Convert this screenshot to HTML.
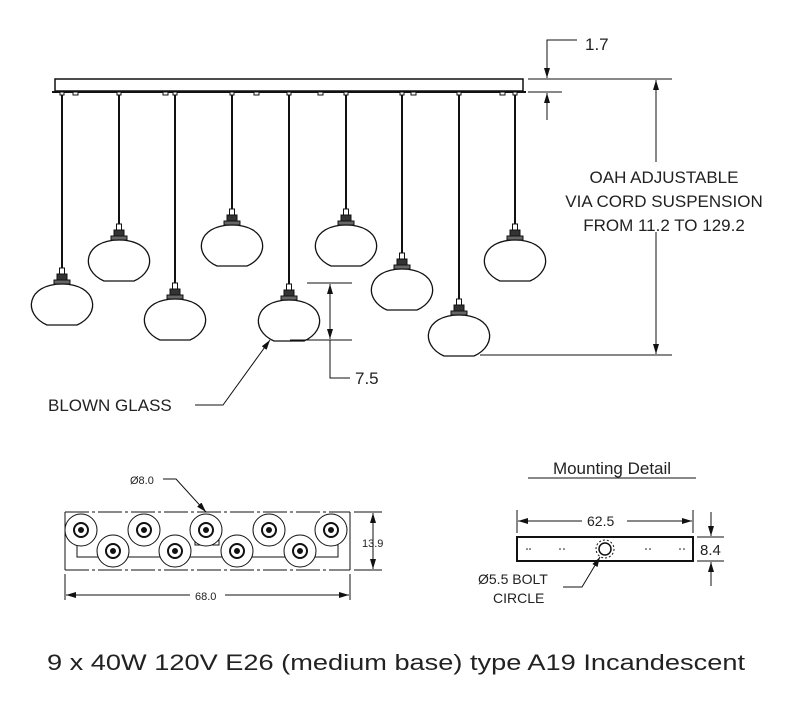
<!DOCTYPE html>
<html><head><style>
body{margin:0;background:#fff;}
svg{display:block;}
text{font-family:"Liberation Sans",sans-serif;fill:#222;}
</style></head><body>
<svg width="800" height="723" viewBox="0 0 800 723" xmlns="http://www.w3.org/2000/svg">
<defs>
<marker id="a" viewBox="0 0 10 6" refX="10" refY="3" markerWidth="10" markerHeight="6" orient="auto-start-reverse" markerUnits="userSpaceOnUse"><path d="M0,0 L10,3 L0,6z" fill="#111"/></marker>
<g id="g">
<line x1="0" y1="-300" x2="0" y2="-16" stroke="#111" stroke-width="2"/>
<rect x="-2.5" y="-16" width="5" height="6" fill="#fff" stroke="#111"/>
<rect x="-5" y="-10" width="10" height="6" fill="#333" stroke="#111"/>
<rect x="-8" y="-4" width="16" height="4" fill="#666" stroke="#111"/>
<path d="M-15,41 L15,41 C40,30 35,0 0,0 C-35,0 -40,30 -15,41Z" fill="#fff" stroke="#111" stroke-width="1.3"/>
</g>
<g id="k"><circle r="16"/><circle r="7" stroke-width="2"/><circle r="2.5" fill="#111"/></g>
<clipPath id="c"><rect x="0" y="93" width="800" height="400"/></clipPath>
</defs>
<g stroke="#111" fill="none">
<rect x="55" y="79" width="468" height="12" stroke-width="1.5"/>
<line x1="52" y1="92" x2="526" y2="92" stroke-width="2"/>
</g>
<g clip-path="url(#c)">
<use href="#g" x="62" y="284"/>
<use href="#g" x="119" y="240"/>
<use href="#g" x="175" y="299"/>
<use href="#g" x="232" y="225"/>
<use href="#g" x="289" y="300"/>
<use href="#g" x="346" y="225"/>
<use href="#g" x="402" y="269"/>
<use href="#g" x="459" y="315"/>
<use href="#g" x="515" y="240"/>
</g>
<g fill="#fff" stroke="#111"><rect x="60" y="92" width="4" height="3"/><rect x="117" y="92" width="4" height="3"/><rect x="173" y="92" width="4" height="3"/><rect x="230" y="92" width="4" height="3"/><rect x="287" y="92" width="4" height="3"/><rect x="344" y="92" width="4" height="3"/><rect x="400" y="92" width="4" height="3"/><rect x="457" y="92" width="4" height="3"/><rect x="513" y="92" width="4" height="3"/>
<rect x="73" y="92" width="5" height="3"/><rect x="163" y="92" width="5" height="3"/><rect x="254" y="92" width="5" height="3"/><rect x="318" y="92" width="5" height="3"/><rect x="411" y="92" width="5" height="3"/><rect x="500" y="92" width="5" height="3"/></g>
<g stroke="#111" stroke-width="1" fill="none">
<line x1="528" y1="79" x2="672" y2="79"/>
<line x1="528" y1="92" x2="562" y2="92"/>
<line x1="480" y1="355" x2="672" y2="355"/>
<line x1="656" y1="80" x2="656" y2="162" marker-start="url(#a)"/>
<line x1="656" y1="232" x2="656" y2="354" marker-end="url(#a)"/>
<polyline points="577,40 547,40 547,78" marker-end="url(#a)"/>
<line x1="547" y1="120" x2="547" y2="93" marker-end="url(#a)"/>
<line x1="307" y1="283" x2="352" y2="283"/>
<line x1="290" y1="340" x2="352" y2="340"/>
<line x1="330" y1="284" x2="330" y2="339" marker-start="url(#a)" marker-end="url(#a)"/>
<polyline points="330,340 330,378 350,378"/>
<polyline points="195,405 223,405 270,340" marker-end="url(#a)"/>
</g>
<text x="585" y="50" font-size="17">1.7</text>
<text x="664" y="183" font-size="17" text-anchor="middle">OAH ADJUSTABLE</text>
<text x="664" y="207" font-size="17" text-anchor="middle">VIA CORD SUSPENSION</text>
<text x="664" y="231" font-size="17" text-anchor="middle">FROM 11.2 TO 129.2</text>
<text x="355" y="384" font-size="17">7.5</text>
<text x="48" y="411" font-size="17">BLOWN GLASS</text>
<g stroke="#111" fill="none" stroke-width="1">
<line x1="65" y1="512" x2="350" y2="512" stroke-dasharray="24,3,3,3"/>
<line x1="65" y1="570" x2="350" y2="570" stroke-dasharray="24,3,3,3"/>
<line x1="65" y1="512" x2="65" y2="570"/><line x1="350" y1="512" x2="350" y2="570"/>
<polyline points="77,530 77,557 338,557 338,530"/>
<rect x="195" y="530" width="24" height="15"/>
<line x1="354" y1="512" x2="382" y2="512"/><line x1="354" y1="570" x2="382" y2="570"/>
<line x1="373" y1="513" x2="373" y2="569" marker-start="url(#a)" marker-end="url(#a)"/>
<line x1="65" y1="574" x2="65" y2="600"/><line x1="350" y1="574" x2="350" y2="600"/>
<line x1="66" y1="595" x2="190" y2="595" marker-start="url(#a)"/>
<line x1="225" y1="595" x2="349" y2="595" marker-end="url(#a)"/>
<polyline points="163,479 176,479 206,512" marker-end="url(#a)"/>
</g>
<g fill="#fff" stroke="#111">
<use href="#k" x="81" y="530"/><use href="#k" x="144" y="530"/><use href="#k" x="206" y="530"/><use href="#k" x="269" y="530"/><use href="#k" x="331" y="530"/>
<use href="#k" x="113" y="551"/><use href="#k" x="175" y="551"/><use href="#k" x="237" y="551"/><use href="#k" x="300" y="551"/>
</g>
<text x="130" y="484" font-size="11">Ø8.0</text>
<text x="362" y="547" font-size="11">13.9</text>
<text x="195" y="600" font-size="11">68.0</text>
<text x="612" y="474" font-size="17" text-anchor="middle">Mounting Detail</text>
<line x1="528" y1="478" x2="696" y2="478" stroke="#111"/>
<g stroke="#111" fill="none">
<rect x="517" y="537" width="176" height="24" stroke-width="2"/>
<line x1="517" y1="510" x2="517" y2="533"/><line x1="693" y1="510" x2="693" y2="533"/>
<line x1="518" y1="521" x2="582" y2="521" marker-start="url(#a)"/>
<line x1="627" y1="521" x2="692" y2="521" marker-end="url(#a)"/>
<line x1="697" y1="537" x2="724" y2="537"/><line x1="697" y1="561" x2="724" y2="561"/>
<line x1="711" y1="512" x2="711" y2="536" marker-end="url(#a)"/>
<line x1="711" y1="586" x2="711" y2="562" marker-end="url(#a)"/>
<circle cx="605" cy="549" r="6" stroke-width="1.5"/>
<circle cx="605" cy="549" r="9" stroke-dasharray="2,2"/>
<polyline points="563,587 582,587 600,557" marker-end="url(#a)"/>
</g>
<g fill="#111"><circle cx="527" cy="549" r="0.8"/><circle cx="530" cy="549" r="0.8"/><circle cx="560" cy="549" r="0.8"/><circle cx="564" cy="549" r="0.8"/><circle cx="646" cy="549" r="0.8"/><circle cx="650" cy="549" r="0.8"/><circle cx="680" cy="549" r="0.8"/><circle cx="684" cy="549" r="0.8"/></g>
<text x="587" y="526" font-size="14">62.5</text>
<text x="700" y="555" font-size="15">8.4</text>
<text x="478" y="584" font-size="14">Ø5.5 BOLT</text>
<text x="493" y="603" font-size="14">CIRCLE</text>
<text x="47" y="670" font-size="22" textLength="698" lengthAdjust="spacingAndGlyphs">9 x 40W 120V E26 (medium base) type A19 Incandescent</text>
</svg>
</body></html>
